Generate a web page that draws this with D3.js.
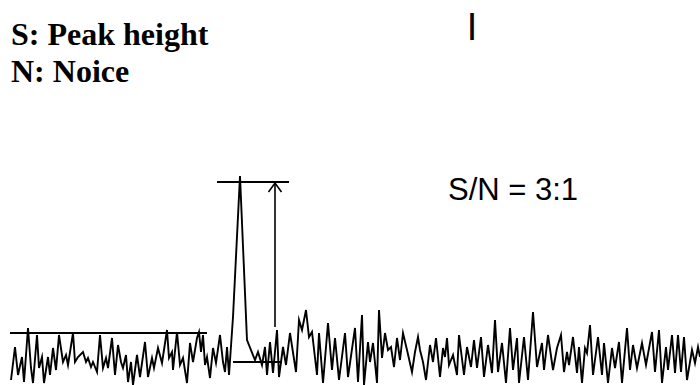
<!DOCTYPE html>
<html>
<head>
<meta charset="utf-8">
<script src="https://cdn.jsdelivr.net/npm/d3@7"></script>
<style>
  html, body { margin: 0; padding: 0; background: #fff; }
  svg { display: block; }
</style>
</head>
<body>
<svg id="chart" width="700" height="385"></svg>
<script>
// ---- Data ----
const traceTime = [
  11,15,18,22,24,28,31,33,37,39,42,44,48,50,53,56,59,63,66,68,73,75,78,83,86,88,91,93,97,100,
  103,106,108,112,115,118,121,123,126,128,131,133,137,
  140,145,148,152,154,158,162,167,169,172,173,177,180,183,187,190,193,197,199,201,203,205,207,
  210,213,216,220,223,225,227,229,233,240,247,255,258,262,265,267,270,273,277,279,283,286,290,
  296,299,302,306,309,312,317,319,323,328,332,335,339,345,348,355,358,362,364,368,370,373,377,
  379,382,385,388,391,394,397,400,403,407,412,415,418,
  420,423,426,430,433,436,440,443,445,447,449,453,457,459,
  464,467,471,474,477,481,484,488,492,495,498,502,506,510,513,517,519,524,528,533,537,542,544,
  548,553,557,561,564,567,569,573,577,579,582,585,587,590,593,598,602,604,608,612,615,619,622,
  627,630,633,637,642,646,652,655,659,662,666,668,672,675,678,681,684,687,692,695,698,700
];
const traceSignal = [
  5,38,10,28,3,57,17,2,50,17,28,2,28,10,37,15,50,23,30,20,52,23,28,33,23,27,18,23,13,50,
  17,27,17,47,10,40,23,17,30,3,23,0,30,
  8,43,8,27,17,37,22,55,27,33,15,53,20,27,2,42,23,47,53,33,50,20,28,
  7,37,22,50,23,13,38,10,68,209,45,25,33,20,38,10,43,12,55,8,38,20,52,
  13,65,55,75,48,53,10,52,2,62,15,47,5,52,8,57,3,70,0,43,23,42,2,
  75,27,52,35,38,18,47,25,52,35,13,33,48,
  35,23,5,40,23,47,8,37,28,47,20,30,10,50,
  10,38,18,45,17,48,8,40,12,65,13,42,2,57,15,47,2,48,5,73,18,42,15,
  50,15,37,50,13,33,20,48,12,38,2,37,32,60,10,48,10,42,2,37,17,43,2,
  57,15,40,17,42,20,53,13,55,2,38,15,50,12,50,13,48,5,35,22,38,28
];

// Reference markings: [startTime, endTime, level]
const noiseHighLine = [10, 207, 52];
const noiseLowLine  = [233, 282, 23];
const peakLine      = [217, 289, 203];
// Vertical S arrow: [time, fromLevel, toLevel]
const signalArrow   = [275, 58, 202];

const legendLines = ["S: Peak height", "N: Noice"];
const ratioLabel = "S/N = 3:1";
const cursorMark = "I";

// ---- Scales ----
const svg = d3.select("#chart");
const x = d3.scaleLinear().domain([0, 700]).range([0, 700]);
const y = d3.scaleLinear().domain([0, 210]).range([385, 175]);

const points = traceTime.map((t, i) => [t, traceSignal[i]]);

const line = d3.line()
  .x(d => x(d[0]))
  .y(d => y(d[1]));

// trace
svg.append("path")
  .datum(points)
  .attr("d", line)
  .attr("fill", "none")
  .attr("stroke", "#000")
  .attr("stroke-width", 1.9)
  .attr("stroke-linejoin", "miter")
  .attr("stroke-miterlimit", 6);

// horizontal reference lines
[noiseHighLine, noiseLowLine, peakLine].forEach(l => {
  svg.append("line")
    .attr("x1", x(l[0])).attr("x2", x(l[1]))
    .attr("y1", y(l[2])).attr("y2", y(l[2]))
    .attr("stroke", "#000")
    .attr("stroke-width", 1.8);
});

// vertical arrow
const ax = x(signalArrow[0]);
svg.append("line")
  .attr("x1", ax).attr("x2", ax)
  .attr("y1", y(signalArrow[1])).attr("y2", y(signalArrow[2]))
  .attr("stroke", "#000")
  .attr("stroke-width", 1.6);
const tipY = y(signalArrow[2]);
svg.append("path")
  .attr("d", `M${ax - 6.5},${tipY + 9} L${ax},${tipY} L${ax + 6.5},${tipY + 9}`)
  .attr("fill", "none")
  .attr("stroke", "#000")
  .attr("stroke-width", 1.6);

// legend text
svg.selectAll("text.legend")
  .data(legendLines)
  .enter().append("text")
  .attr("class", "legend")
  .attr("x", 11)
  .attr("y", (d, i) => 45 + i * 37)
  .attr("font-family", "'Liberation Serif', 'Times New Roman', serif")
  .attr("font-weight", "bold")
  .attr("font-size", 32)
  .attr("fill", "#000")
  .text(d => d);

svg.append("text")
  .attr("x", 448)
  .attr("y", 200)
  .attr("font-family", "'Liberation Sans', Arial, sans-serif")
  .attr("font-size", 31)
  .attr("fill", "#000")
  .text(ratioLabel);

svg.append("text")
  .attr("x", 472)
  .attr("y", 40)
  .attr("text-anchor", "middle")
  .attr("font-family", "'Liberation Sans', Arial, sans-serif")
  .attr("font-size", 38)
  .attr("fill", "#000")
  .text(cursorMark);
</script>
</body>
</html>
